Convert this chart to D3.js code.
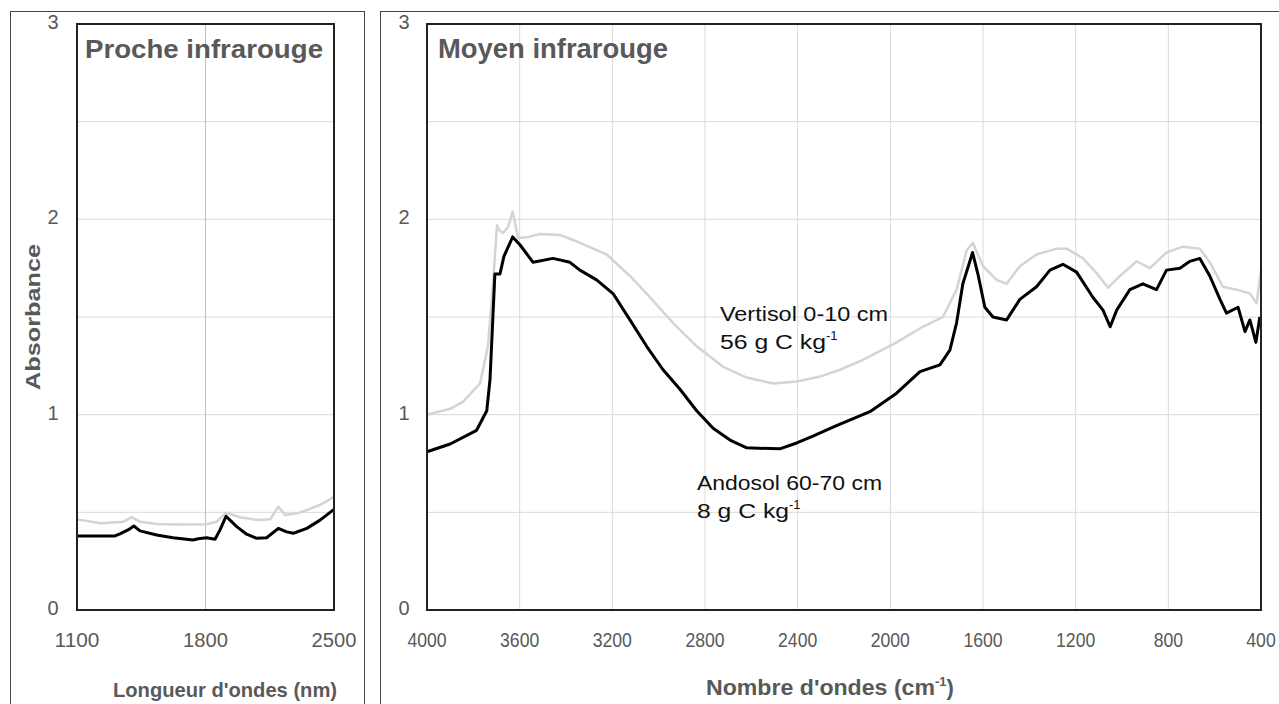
<!DOCTYPE html>
<html><head><meta charset="utf-8">
<script src="https://cdn.jsdelivr.net/npm/d3@7"></script>
<style>
html,body{margin:0;padding:0;background:#fff;}
svg{display:block;}
text{font-family:"Liberation Sans",Arial,sans-serif;}
</style></head>
<body>
<svg id="chart" width="1279" height="704"></svg>
<script>
// ---------- DATA ----------
const yTicks = [0, 1, 2, 3];
const yGrid = [0.5, 1, 1.5, 2, 2.5];
const nirTicks = [1100, 1800, 2500];
const mirTicks = [4000, 3600, 3200, 2800, 2400, 2000, 1600, 1200, 800, 400];

// Near infrared (nm)
const nirVertisolX = [1100, 1227, 1354, 1398, 1443, 1534, 1650, 1806, 1861, 1912, 1988, 2079, 2152, 2197, 2234, 2300, 2352, 2430, 2500];
const nirVertisolY = [0.464, 0.444, 0.452, 0.475, 0.452, 0.44, 0.438, 0.439, 0.452, 0.498, 0.475, 0.461, 0.464, 0.529, 0.486, 0.495, 0.512, 0.54, 0.58];
const nirAndosolX = [1100, 1307, 1334, 1378, 1410, 1443, 1534, 1623, 1732, 1760, 1806, 1852, 1879, 1912, 1970, 2024, 2079, 2133, 2197, 2242, 2279, 2352, 2424, 2500];
const nirAndosolY = [0.379, 0.379, 0.39, 0.41, 0.43, 0.405, 0.384, 0.37, 0.358, 0.365, 0.37, 0.362, 0.41, 0.48, 0.427, 0.388, 0.367, 0.37, 0.418, 0.40, 0.393, 0.418, 0.46, 0.515];

// Mid infrared (cm-1)
const mirVertisolX = [4000, 3900, 3844, 3771, 3737, 3714, 3698, 3685, 3672, 3650, 3630, 3607, 3560, 3512, 3426, 3340, 3224, 3124, 3052, 2938, 2836, 2722, 2620, 2506, 2404, 2304, 2217, 2118, 1973, 1860, 1773, 1714, 1671, 1644, 1600, 1541, 1498, 1441, 1369, 1282, 1239, 1168, 1110, 1060, 1009, 937, 880, 808, 737, 664, 621, 564, 505, 448, 419, 400];
const mirVertisolY = [1.0, 1.03, 1.067, 1.16, 1.35, 1.69, 1.97, 1.94, 1.93, 1.96, 2.04, 1.905, 1.91, 1.925, 1.92, 1.88, 1.82, 1.71, 1.62, 1.47, 1.35, 1.245, 1.19, 1.16, 1.17, 1.195, 1.23, 1.28, 1.37, 1.45, 1.50, 1.64, 1.84, 1.88, 1.76, 1.69, 1.67, 1.76, 1.82, 1.85, 1.85, 1.80, 1.725, 1.65, 1.71, 1.785, 1.75, 1.83, 1.86, 1.85, 1.78, 1.655, 1.64, 1.62, 1.57, 1.74];
const mirAndosolX = [4000, 3900, 3786, 3742, 3728, 3707, 3685, 3668, 3630, 3599, 3542, 3456, 3383, 3340, 3268, 3197, 3124, 3052, 2981, 2908, 2836, 2765, 2692, 2620, 2477, 2404, 2334, 2240, 2088, 1973, 1872, 1786, 1743, 1714, 1687, 1645, 1622, 1592, 1557, 1498, 1441, 1369, 1311, 1255, 1196, 1125, 1082, 1051, 1023, 966, 910, 851, 808, 750, 707, 664, 621, 577, 549, 499, 469, 448, 422, 405];
const mirAndosolY = [0.81, 0.85, 0.92, 1.02, 1.18, 1.72, 1.72, 1.81, 1.91, 1.87, 1.78, 1.80, 1.78, 1.74, 1.69, 1.62, 1.485, 1.35, 1.23, 1.13, 1.02, 0.93, 0.87, 0.83, 0.825, 0.855, 0.89, 0.94, 1.015, 1.11, 1.22, 1.255, 1.33, 1.47, 1.67, 1.83, 1.72, 1.55, 1.50, 1.485, 1.59, 1.655, 1.74, 1.77, 1.73, 1.60, 1.535, 1.45, 1.535, 1.64, 1.67, 1.64, 1.74, 1.75, 1.785, 1.80, 1.71, 1.59, 1.52, 1.55, 1.425, 1.485, 1.37, 1.50];

// ---------- DRAW ----------
const svg = d3.select("#chart");
const textGrey = "#595959";
const gridCol = "#d9d9d9";

svg.append("rect").attr("x", 10.5).attr("y", 11.5).attr("width", 354).attr("height", 700)
  .attr("fill", "none").attr("stroke", "#444").attr("stroke-width", 1);
svg.append("rect").attr("x", 380.5).attr("y", 11.5).attr("width", 910).attr("height", 700)
  .attr("fill", "none").attr("stroke", "#444").attr("stroke-width", 1);

const y = d3.scaleLinear().domain([0, 3]).range([610, 24]);

function panel(cfg) {
  const g = svg.append("g");
  const x = cfg.x;
  const [x0, x1] = x.range();
  g.selectAll(".hg").data(yGrid).join("line")
    .attr("x1", x0).attr("x2", x1).attr("y1", d => y(d)).attr("y2", d => y(d))
    .attr("stroke", gridCol).attr("stroke-width", 1);
  g.selectAll(".vg").data(cfg.vgrid).join("line")
    .attr("x1", d => x(d)).attr("x2", d => x(d)).attr("y1", y(0)).attr("y2", y(3))
    .attr("stroke", cfg.vgridCol || gridCol).attr("stroke-width", 1);
  g.selectAll(".yt").data(yTicks).join("text")
    .attr("x", cfg.yLabelX).attr("y", d => y(d) + 5).attr("text-anchor", "middle")
    .attr("font-size", 20).attr("fill", textGrey)
    .text(d => d);
  g.selectAll(".xt").data(cfg.ticks).join("text")
    .attr("x", d => x(d)).attr("y", 647).attr("text-anchor", "middle")
    .attr("font-size", 20).attr("fill", textGrey)
    .attr("textLength", d => String(d).length * cfg.digitW).attr("lengthAdjust", "spacingAndGlyphs")
    .text(d => d);
  const line = d3.line().x(d => x(d[0])).y(d => y(d[1]));
  cfg.series.forEach(s => {
    g.append("path").datum(d3.zip(s.x, s.y)).attr("d", line)
      .attr("fill", "none").attr("stroke", s.color).attr("stroke-width", s.w)
      .attr("stroke-linejoin", "round");
  });
  g.append("rect").attr("x", x0).attr("y", y(3)).attr("width", x1 - x0).attr("height", y(0) - y(3))
    .attr("fill", "none").attr("stroke", "#222").attr("stroke-width", 2);
  return g;
}

const xNir = d3.scaleLinear().domain([1100, 2500]).range([77, 334]);
const xMir = d3.scaleLinear().domain([4000, 400]).range([427, 1261]);

panel({
  x: xNir, vgrid: [1800], vgridCol: "#bfbfbf", ticks: nirTicks, yLabelX: 53, digitW: 11.2,
  series: [
    {x: nirVertisolX, y: nirVertisolY, color: "#d4d4d4", w: 2.5},
    {x: nirAndosolX, y: nirAndosolY, color: "#000", w: 3}
  ]
});
panel({
  x: xMir, vgrid: mirTicks.slice(1, -1), ticks: mirTicks, yLabelX: 404, digitW: 9.8,
  series: [
    {x: mirVertisolX, y: mirVertisolY, color: "#d4d4d4", w: 2.5},
    {x: mirAndosolX, y: mirAndosolY, color: "#000", w: 3}
  ]
});

// Panel titles
svg.append("text").attr("x", 85).attr("y", 58).attr("font-size", 26).attr("font-weight", "bold")
  .attr("fill", textGrey).attr("textLength", 238).attr("lengthAdjust", "spacingAndGlyphs")
  .text("Proche infrarouge");
svg.append("text").attr("x", 438).attr("y", 58).attr("font-size", 27).attr("font-weight", "bold")
  .attr("fill", textGrey).attr("textLength", 230).attr("lengthAdjust", "spacingAndGlyphs")
  .text("Moyen infrarouge");

// Axis titles
svg.append("text").attr("x", 225).attr("y", 697).attr("text-anchor", "middle")
  .attr("font-size", 21).attr("font-weight", "bold").attr("fill", textGrey)
  .attr("textLength", 224).attr("lengthAdjust", "spacingAndGlyphs")
  .text("Longueur d'ondes (nm)");
const nt = svg.append("text").attr("x", 706).attr("y", 695)
  .attr("font-size", 22).attr("font-weight", "bold").attr("fill", textGrey);
nt.append("tspan").attr("textLength", 229).attr("lengthAdjust", "spacingAndGlyphs").text("Nombre d'ondes (cm");
nt.append("tspan").attr("font-size", 13).attr("dy", -9).text("-1");
nt.append("tspan").attr("dy", 9).text(")");

svg.append("text").attr("transform", "translate(40,317) rotate(-90)").attr("text-anchor", "middle")
  .attr("font-size", 21).attr("font-weight", "bold").attr("fill", textGrey)
  .attr("textLength", 146).attr("lengthAdjust", "spacingAndGlyphs")
  .text("Absorbance");

// Annotations
function note(xp, yp, l1, l2, w1, w2) {
  svg.append("text").attr("x", xp).attr("y", yp).attr("font-size", 20).attr("fill", "#111")
    .attr("textLength", w1).attr("lengthAdjust", "spacingAndGlyphs").text(l1);
  const t = svg.append("text").attr("x", xp).attr("y", yp + 28).attr("font-size", 20).attr("fill", "#111");
  t.append("tspan").attr("textLength", w2).attr("lengthAdjust", "spacingAndGlyphs").text(l2);
  t.append("tspan").attr("font-size", 13).attr("dy", -9).text("-1");
}
note(720, 321, "Vertisol 0-10 cm", "56 g C kg", 168, 106);
note(697, 490, "Andosol 60-70 cm", "8 g C kg", 185, 92);
</script>
</body></html>
